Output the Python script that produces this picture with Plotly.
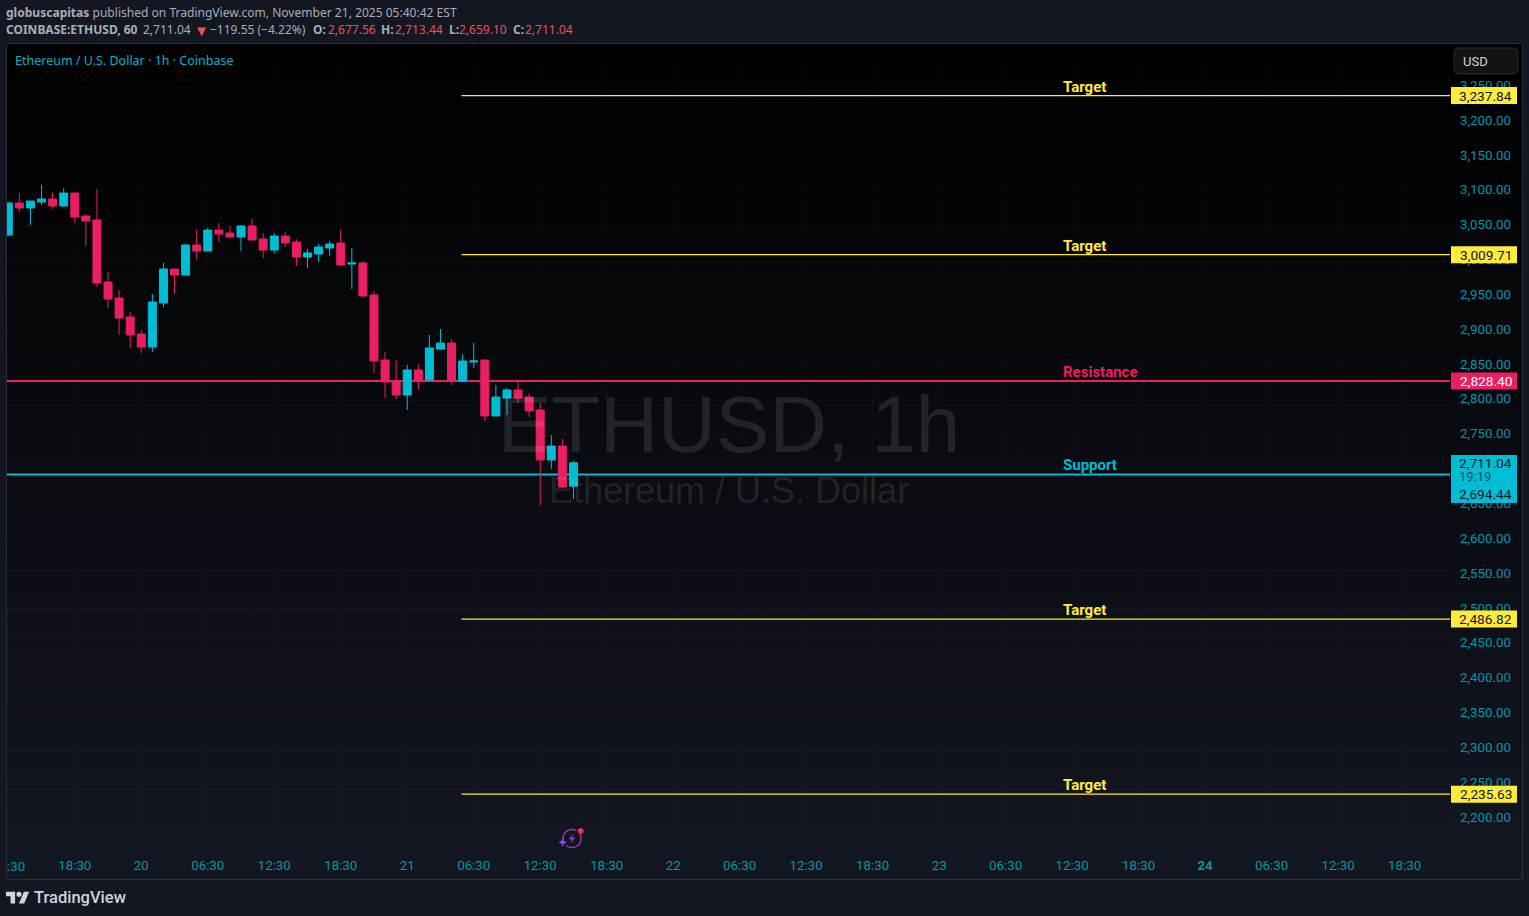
import math
from datetime import datetime, timedelta
from urllib.parse import quote
import plotly.graph_objects as go

W, H = 1529, 916

# ---------- data ----------
START = datetime(2025, 11, 19, 12, 30)
opens = [3037.8,3083.8,3076.6,3085.2,3089.5,3079.5,3098.1,3065.1,3059.4,2970.4,2947.5,2920.2,2895.8,
         2877.2,2940.3,2989.1,2980.4,3023.5,3014.9,3045.0,3040.7,3035.0,3050.8,3032.1,3016.3,3036.4,
         3027.8,3006.3,3010.6,3019.2,3026.4,2996.3,2997.7,2951.8,2858.5,2828.4,2808.3,2844.2,2829.8,
         2874.3,2882.9,2828.4,2855.7,2858.5,2778.2,2804.0,2815.5,2805.4,2786.8,2715.1,2735.1,2677.56]
highs = [3085.2,3098.1,3086.6,3109.6,3099.5,3105.3,3098.1,3068.0,3103.8,2984.8,2958.9,2927.4,2901.5,
         2953.2,2997.7,2989.1,3024.9,3046.5,3047.9,3055.1,3050.8,3052.2,3060.8,3040.7,3040.7,3042.1,
         3032.1,3017.8,3025.0,3029.3,3046.5,3019.2,3000.6,2957.5,2870.0,2858.5,2851.4,2852.8,2894.4,
         2903.0,2888.7,2867.1,2882.9,2858.5,2822.7,2818.4,2828.4,2811.2,2796.8,2750.9,2745.2,2713.44]
lows = [3036.4,3070.8,3052.2,3080.9,3075.1,3078.0,3055.1,3022.1,2963.2,2933.1,2894.4,2875.7,2868.5,
        2870.0,2934.5,2953.2,2980.4,3002.0,3014.9,3027.8,3033.5,3014.9,3030.7,3004.8,3012.0,3020.6,
        2993.4,2990.5,2999.1,3007.7,2993.4,2960.4,2947.5,2839.9,2804.0,2802.6,2786.8,2815.5,2829.8,
        2872.9,2822.7,2828.4,2847.1,2771.0,2778.2,2779.6,2796.8,2776.8,2650.5,2702.2,2674.9,2659.10]
closes = [3083.8,3076.6,3086.6,3089.5,3079.5,3098.1,3063.7,3057.9,2969.0,2946.0,2918.8,2894.4,2877.2,
          2941.7,2989.1,2980.4,3023.5,3014.9,3045.0,3039.3,3035.0,3050.8,3030.7,3016.3,3036.4,3026.4,
          3006.3,3012.1,3020.7,3025.0,2994.8,2997.7,2950.4,2857.1,2827.0,2808.3,2844.2,2828.4,2875.8,
          2882.9,2828.4,2857.1,2857.1,2778.2,2805.4,2815.5,2804.0,2785.4,2715.1,2735.1,2676.3,2711.04]

level_prices = [3237.84, 3009.71, 2828.40, 2694.44, 2486.82, 2235.63]
level_names = ["Target", "Target", "Resistance", "Support", "Target", "Target"]
level_colors = ["#ffeb3b", "#ffeb3b", "#e91e63", "#00bcd4", "#ffeb3b", "#ffeb3b"]
level_widths = [1.2, 1.2, 2, 2, 1.2, 1.2]
level_starts = ["2025-11-21 05:24", "2025-11-21 05:24", "2025-11-19 12:00", "2025-11-19 12:00",
                "2025-11-21 05:24", "2025-11-21 05:24"]

price_ticks = [2200 + 50 * i for i in range(22)]
time_labels = ["18:30", "20", "06:30", "12:30", "18:30", "21", "06:30", "12:30", "18:30", "22", "06:30",
               "12:30", "18:30", "23", "06:30", "12:30", "18:30", "<b>24</b>", "06:30", "12:30", "18:30"]

times = [START + timedelta(hours=i) for i in range(len(opens))]
time_ticks = [START + timedelta(hours=6 * (i + 1)) for i in range(len(time_labels))]

# ---------- pixel helpers for decoration ----------
PX0, PX1, PY0, PY1 = 7, 1450, 44, 852
def fx(x): return x / W
def fy(y): return 1 - y / H
def P(x, y): return f"{fx(x):.6f},{fy(y):.6f}"

def rrect(x0, y0, x1, y1, r):
    return (f"M{P(x0+r,y0)} L{P(x1-r,y0)} Q{P(x1,y0)} {P(x1,y0+r)} L{P(x1,y1-r)} Q{P(x1,y1)} {P(x1-r,y1)} "
            f"L{P(x0+r,y1)} Q{P(x0,y1)} {P(x0,y1-r)} L{P(x0,y0+r)} Q{P(x0,y0)} {P(x0+r,y0)} Z")

def poly(points, close=True):
    s = "M" + " L".join(P(a, b) for a, b in points)
    return s + (" Z" if close else "")

def arc(cx, cy, r, a0, a1, n=40):
    return [(cx + r * math.cos(math.radians(a0 + (a1 - a0) * i / n)),
             cy + r * math.sin(math.radians(a0 + (a1 - a0) * i / n))) for i in range(n + 1)]

fig = go.Figure()
fig.add_trace(go.Candlestick(
    x=times, open=opens, high=highs, low=lows, close=closes,
    increasing=dict(line=dict(color="#00bcd4", width=1), fillcolor="#00bcd4"),
    decreasing=dict(line=dict(color="#e91e63", width=1), fillcolor="#e91e63"),
    whiskerwidth=0, showlegend=False, hoverinfo="skip"))

shapes, ann = [], []
AX_END = START + timedelta(hours=130.1)

# levels under the candles
for p, c, w, s in zip(level_prices, level_colors, level_widths, level_starts):
    shapes.append(dict(type="line", xref="x", yref="y", x0=s, x1=AX_END, y0=p, y1=p,
                       line=dict(color=c, width=w), layer="below"))

# frame
shapes.append(dict(type="rect", xref="paper", yref="paper", x0=fx(6.5), x1=fx(1522.5), y0=fy(43.5), y1=fy(879.5),
                   line=dict(color="#2a2e39", width=1), fillcolor="rgba(0,0,0,0)", layer="above"))
# USD button
shapes.append(dict(type="path", xref="paper", yref="paper", path=rrect(1454, 48, 1518, 74, 5),
                   line=dict(color="#2e2e2e", width=1), fillcolor="#131313", layer="above"))
# last price box
shapes.append(dict(type="rect", xref="paper", yref="paper", x0=fx(1451), x1=fx(1517), y0=fy(455), y1=fy(503),
                   line=dict(width=0), fillcolor="#00bcd4", layer="above"))

# TradingView logo
sc, ox, oy = 0.65, 6, 889.1
def L(x, y): return (ox + sc * x, oy + sc * y)
logo = [[(14,22),(7,22),(7,11),(0,11),(0,4),(14,4)], [(28,22),(20,22),(27.5,4),(35.5,4)]]
for part in logo:
    shapes.append(dict(type="path", xref="paper", yref="paper", path=poly([L(*q) for q in part]),
                       line=dict(width=0), fillcolor="#d1d4dc", layer="above"))
shapes.append(dict(type="path", xref="paper", yref="paper", path=poly([L(20 + 4*math.cos(i/12*math.pi), 8 + 4*math.sin(i/12*math.pi)) for i in range(24)]),
                   line=dict(width=0), fillcolor="#d1d4dc", layer="above"))

# bolt badge
shapes.append(dict(type="path", xref="paper", yref="paper", path=poly(arc(572, 838.5, 9, -30, 130), close=False),
                   line=dict(color="#9c36b5", width=1.4), layer="above"))
shapes.append(dict(type="path", xref="paper", yref="paper", path=poly(arc(572, 838.5, 9, 170, 300), close=False),
                   line=dict(color="#9c36b5", width=1.4), layer="above"))
shapes.append(dict(type="path", xref="paper", yref="paper",
                   path=poly([(574.5,832.5),(568.5,839.5),(572,839.5),(569.5,844.5),(575.5,837.5),(572,837.5)]),
                   line=dict(width=0), fillcolor="#9c36b5", layer="above"))
shapes.append(dict(type="path", xref="paper", yref="paper",
                   path=poly([(580.7+3*math.cos(i/8*math.pi), 831+3*math.sin(i/8*math.pi)) for i in range(16)]),
                   line=dict(width=0), fillcolor="#f23645", layer="above"))
shapes.append(dict(type="path", xref="paper", yref="paper",
                   path=poly([(562.7,837.8),(563.9,841.1),(567.2,842.3),(563.9,843.5),(562.7,846.8),(561.5,843.5),(558.2,842.3),(561.5,841.1)]),
                   line=dict(width=0), fillcolor="#7c4dff", layer="above"))

UI = "Roboto"
HEAD = "Noto Sans"

def note(text, x, y, size, color, anchor="left", family=UI, yanchor="middle"):
    ann.append(dict(text=text, xref="paper", yref="paper", x=fx(x), y=fy(y), xanchor=anchor, yanchor=yanchor,
                    showarrow=False, borderpad=0, borderwidth=0, font=dict(size=size, color=color, family=family)))

# watermark
note("ETHUSD, 1h", 728.5, 425, 80, "rgba(255,255,255,0.1)", "center", "Liberation Sans")
note("Ethereum / U.S. Dollar", 729, 491, 36, "rgba(255,255,255,0.1)", "center", "Liberation Sans")

# header
G = "#a9adb8"
R = "#ef4f4f"
note("<b>globuscapitas</b> published on TradingView.com, November 21, 2025 05:40:42 EST", 6, 12.5, 12.05, G, family=HEAD)
for txt, x, col in [("<b>COINBASE:ETHUSD, 60</b>", 6, G), ("2,711.04", 143, G),
                    ("−119.55 (−4.22%)", 210, G),
                    ("<b>O:</b>", 313, G), ("2,677.56", 328, R),
                    ("<b>H:</b>", 381, G), ("2,713.44", 394.5, R),
                    ("<b>L:</b>", 449, G), ("2,659.10", 459, R),
                    ("<b>C:</b>", 513, G), ("2,711.04", 525, R)]:
    note(txt, x, 29.5, 12, col, family=HEAD)
note("▼", 194, 29.5, 15, R, family=HEAD)
note("Ethereum / U.S. Dollar · 1h · Coinbase", 15, 60.5, 12.5, "#00b2c8", family=HEAD)

note("USD", 1463, 61, 13, "#d1d4dc")
note("<span style='font-weight:500'>TradingView</span>", 34, 897, 16.5, "#d1d4dc")
note(":30", 7, 866, 13.3, "#0097a7")

# level captions and price labels
for p, name, c in zip(level_prices, level_names, level_colors):
    ann.append(dict(text=f"<b>{name}</b>", xref="paper", yref="y", x=fx(1063), y=p, yshift=9, xanchor="left",
                    yanchor="middle", showarrow=False, borderpad=0, borderwidth=0,
                    font=dict(size=15, color=c, family=UI)))
    if name == "Support":
        continue
    shapes.append(dict(type="rect", xref="paper", yref="y", ysizemode="pixel", yanchor=p, y0=-8.5, y1=8.5,
                       x0=fx(1451), x1=fx(1517), line=dict(width=0), fillcolor=c, layer="above"))
    ann.append(dict(text=f"{p:,.2f}", xref="paper", yref="y", x=fx(1485.5), y=p, xanchor="center", yanchor="middle",
                    showarrow=False, borderpad=0, borderwidth=0,
                    font=dict(size=13.7, color="#ffffff" if name == "Resistance" else "#131722", family=UI)))

note(f"{closes[-1]:,.2f}", 1485.5, 462.5, 13.7, "#131722", "center")
note("19:19", 1459, 476.5, 13, "#0b4f5c")
note(f"{level_prices[3]:,.2f}", 1485.5, 493.5, 13.7, "#131722", "center")

GRID = "rgba(240,243,250,0.025)"
svg = ("<svg xmlns='http://www.w3.org/2000/svg' width='100' height='100' preserveAspectRatio='none'>"
       "<defs><linearGradient id='g' x1='0' y1='0' x2='0' y2='1'><stop offset='0' stop-color='#000000'/>"
       "<stop offset='1' stop-color='#131722'/></linearGradient></defs>"
       "<rect width='100' height='100' fill='url(#g)'/></svg>")

fig.update_layout(
    width=W, height=H, autosize=False, margin=dict(l=0, r=0, t=0, b=0, pad=0),
    paper_bgcolor="#131722", plot_bgcolor="rgba(0,0,0,0)", showlegend=False, hovermode=False,
    boxgap=0.15, boxgroupgap=0.15, shapes=shapes, annotations=ann,
    images=[dict(source="data:image/svg+xml," + quote(svg), xref="paper", yref="paper",
                 x=fx(7), y=fy(44), sizex=fx(1522) - fx(7), sizey=fy(44) - fy(879),
                 sizing="stretch", xanchor="left", yanchor="top", layer="below")],
    xaxis=dict(type="date", domain=[fx(PX0), fx(PX1)], range=[START - timedelta(hours=0.117), AX_END],
               tickmode="array", tickvals=time_ticks, ticktext=time_labels, ticks="", showline=False,
               zeroline=False, showgrid=True, gridcolor=GRID, gridwidth=1, rangeslider=dict(visible=False),
               tickfont=dict(size=13.3, color="#0097a7", family=UI), tickangle=0, ticklabelstandoff=4),
    yaxis=dict(side="right", domain=[fy(PY1), fy(PY0)], range=[2152.7, 3311.9], tickmode="array",
               tickvals=price_ticks, tickformat=",.2f", ticks="", showline=False, zeroline=False,
               showgrid=True, gridcolor=GRID, gridwidth=1, ticklabelstandoff=9, ticklabelshift=-2,
               tickfont=dict(size=13.3, color="#0097a7", family=UI)),
)

fig.write_html("out.html", config=dict(displayModeBar=False, staticPlot=True),
               post_script="document.body.style.margin='0';document.body.style.background='#131722';document.body.style.overflow='hidden';")
